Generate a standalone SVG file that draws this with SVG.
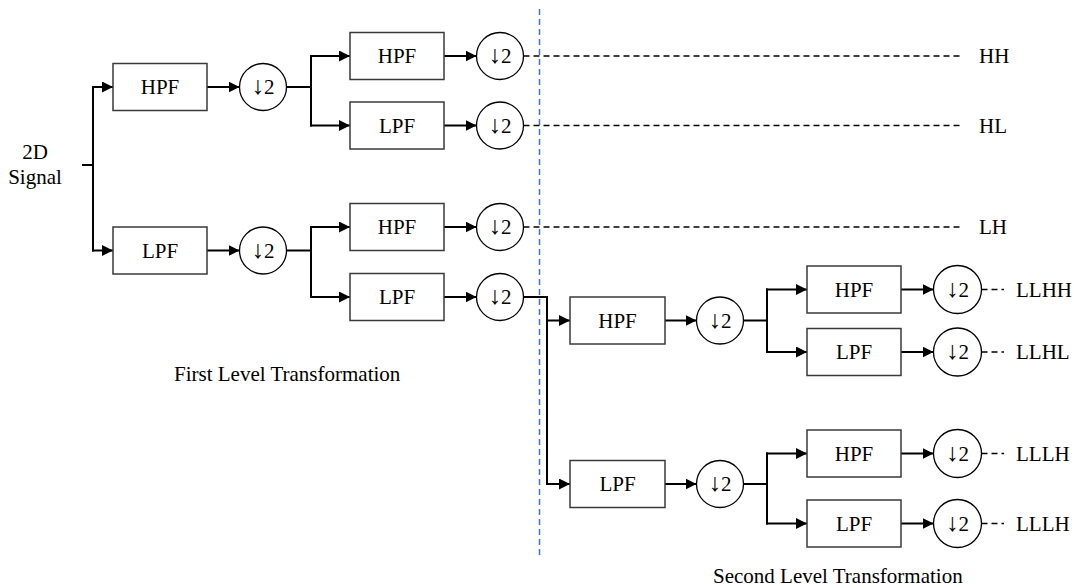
<svg xmlns="http://www.w3.org/2000/svg" width="1074" height="588" viewBox="0 0 1074 588">
<style>
text{font-family:"Liberation Serif","Times New Roman",serif;fill:#000}
.lbl{font-size:21px;text-anchor:middle}
.out{font-size:21px}
.cap{font-size:21px}
.ar{font-size:25px}
.box{fill:#fff;stroke:#3a3a3a;stroke-width:1.5}
.ds{fill:#fff;stroke:#000;stroke-width:1.3}
.c{fill:none;stroke:#000;stroke-width:2}
.a{fill:none;stroke:#000;stroke-width:2;marker-end:url(#ah)}
.d{fill:none;stroke:#000;stroke-width:1.5;stroke-dasharray:6 4}
.sep{fill:none;stroke:#3F78B5;stroke-width:1.5;stroke-dasharray:6 4}
</style>
<defs>
<marker id="ah" markerUnits="userSpaceOnUse" viewBox="0 0 10 10" markerWidth="11" markerHeight="11" refX="10" refY="5" orient="auto">
<path d="M0,0 L10,5 L0,10 z" fill="#000"/>
</marker>
</defs>
<rect width="1074" height="588" fill="#fff"/>

<g id="separator">
<line class="sep" x1="539.5" y1="9" x2="539.5" y2="555"/>
</g>

<g id="connectors">
<line class="c" x1="82" y1="165" x2="93" y2="165"/>
<line class="c" x1="93" y1="86" x2="93" y2="251.5"/>
<line class="a" x1="92" y1="87" x2="113" y2="87"/>
<line class="a" x1="92" y1="250.5" x2="113" y2="250.5"/>
<line class="a" x1="207" y1="87" x2="239.5" y2="87"/>
<line class="a" x1="207" y1="250.5" x2="239.5" y2="250.5"/>
<line class="c" x1="286.5" y1="87" x2="311" y2="87"/>
<line class="c" x1="311" y1="55" x2="311" y2="126.5"/>
<line class="a" x1="310" y1="56" x2="350" y2="56"/>
<line class="a" x1="310" y1="125.5" x2="350" y2="125.5"/>
<line class="a" x1="444" y1="56" x2="476.5" y2="56"/>
<line class="a" x1="444" y1="125.5" x2="476.5" y2="125.5"/>
<line class="c" x1="286.5" y1="250.5" x2="311" y2="250.5"/>
<line class="c" x1="311" y1="226" x2="311" y2="298"/>
<line class="a" x1="310" y1="227" x2="350" y2="227"/>
<line class="a" x1="310" y1="297" x2="350" y2="297"/>
<line class="a" x1="444" y1="227" x2="476.5" y2="227"/>
<line class="a" x1="444" y1="297" x2="476.5" y2="297"/>
<line class="d" x1="523.5" y1="56" x2="963" y2="56"/>
<line class="d" x1="523.5" y1="125.5" x2="963" y2="125.5"/>
<line class="d" x1="523.5" y1="227" x2="963" y2="227"/>
<polyline class="c" points="523.5,297 547,297 547,485"/>
<line class="a" x1="546" y1="320.5" x2="570" y2="320.5"/>
<line class="a" x1="546" y1="484" x2="570" y2="484"/>
<line class="a" x1="665" y1="320.5" x2="696.5" y2="320.5"/>
<line class="a" x1="665" y1="484" x2="696.5" y2="484"/>
<line class="c" x1="743.5" y1="320.5" x2="767" y2="320.5"/>
<line class="c" x1="767" y1="288.5" x2="767" y2="353"/>
<line class="a" x1="766" y1="289.5" x2="807" y2="289.5"/>
<line class="a" x1="766" y1="352" x2="807" y2="352"/>
<line class="c" x1="743.5" y1="484" x2="767" y2="484"/>
<line class="c" x1="767" y1="452.5" x2="767" y2="524.5"/>
<line class="a" x1="766" y1="453.5" x2="807" y2="453.5"/>
<line class="a" x1="766" y1="523.5" x2="807" y2="523.5"/>
<line class="a" x1="901" y1="289.5" x2="933.5" y2="289.5"/>
<line class="a" x1="901" y1="352" x2="933.5" y2="352"/>
<line class="a" x1="901" y1="453.5" x2="933.5" y2="453.5"/>
<line class="a" x1="901" y1="523.5" x2="933.5" y2="523.5"/>
<line class="d" x1="981.5" y1="289.5" x2="1004" y2="289.5"/>
<line class="d" x1="981.5" y1="352" x2="1004" y2="352"/>
<line class="d" x1="981.5" y1="453.5" x2="1004" y2="453.5"/>
<line class="d" x1="981.5" y1="523.5" x2="1004" y2="523.5"/>
</g>

<g id="input"><text class="lbl" x="35" y="159">2D</text><text class="lbl" x="35" y="184">Signal</text></g>

<g id="hpf1"><rect class="box" x="113" y="63.5" width="94" height="47"/><text class="lbl" x="160" y="94">HPF</text></g>
<g id="lpf1"><rect class="box" x="113" y="227" width="94" height="47"/><text class="lbl" x="160" y="257.5">LPF</text></g>
<g id="ds1"><circle class="ds" cx="263" cy="87" r="23.5"/><text class="lbl" x="263" y="94"><tspan class="ar">↓</tspan>2</text></g>
<g id="ds2"><circle class="ds" cx="263" cy="250.5" r="23.5"/><text class="lbl" x="263" y="257.5"><tspan class="ar">↓</tspan>2</text></g>

<g id="hpf_h"><rect class="box" x="350" y="32.5" width="94" height="47"/><text class="lbl" x="397" y="63">HPF</text></g>
<g id="lpf_h"><rect class="box" x="350" y="102" width="94" height="47"/><text class="lbl" x="397" y="132.5">LPF</text></g>
<g id="hpf_l"><rect class="box" x="350" y="203.5" width="94" height="47"/><text class="lbl" x="397" y="234">HPF</text></g>
<g id="lpf_l"><rect class="box" x="350" y="273.5" width="94" height="47"/><text class="lbl" x="397" y="304">LPF</text></g>
<g id="ds_hh"><circle class="ds" cx="500" cy="56" r="23.5"/><text class="lbl" x="500" y="63"><tspan class="ar">↓</tspan>2</text></g>
<g id="ds_hl"><circle class="ds" cx="500" cy="125.5" r="23.5"/><text class="lbl" x="500" y="132.5"><tspan class="ar">↓</tspan>2</text></g>
<g id="ds_lh"><circle class="ds" cx="500" cy="227" r="23.5"/><text class="lbl" x="500" y="234"><tspan class="ar">↓</tspan>2</text></g>
<g id="ds_ll"><circle class="ds" cx="500" cy="297" r="23.5"/><text class="lbl" x="500" y="304"><tspan class="ar">↓</tspan>2</text></g>

<g id="out_hh"><text class="out" x="979" y="63">HH</text></g>
<g id="out_hl"><text class="out" x="979" y="132.5">HL</text></g>
<g id="out_lh"><text class="out" x="979" y="234">LH</text></g>

<g id="hpf2"><rect class="box" x="570" y="297" width="95" height="47"/><text class="lbl" x="617.5" y="327.5">HPF</text></g>
<g id="lpf2"><rect class="box" x="570" y="460.5" width="95" height="47"/><text class="lbl" x="617.5" y="491">LPF</text></g>
<g id="ds3"><circle class="ds" cx="720" cy="320.5" r="23.5"/><text class="lbl" x="720" y="327.5"><tspan class="ar">↓</tspan>2</text></g>
<g id="ds4"><circle class="ds" cx="720" cy="484" r="23.5"/><text class="lbl" x="720" y="491"><tspan class="ar">↓</tspan>2</text></g>

<g id="hpf3a"><rect class="box" x="807" y="266" width="94" height="47"/><text class="lbl" x="854" y="296.5">HPF</text></g>
<g id="lpf3a"><rect class="box" x="807" y="328.5" width="94" height="47"/><text class="lbl" x="854" y="359">LPF</text></g>
<g id="hpf3b"><rect class="box" x="807" y="430" width="94" height="47"/><text class="lbl" x="854" y="460.5">HPF</text></g>
<g id="lpf3b"><rect class="box" x="807" y="500" width="94" height="47"/><text class="lbl" x="854" y="530.5">LPF</text></g>
<g id="ds5"><circle class="ds" cx="957.5" cy="289.5" r="24"/><text class="lbl" x="957.5" y="296.5"><tspan class="ar">↓</tspan>2</text></g>
<g id="ds6"><circle class="ds" cx="957.5" cy="352" r="24"/><text class="lbl" x="957.5" y="359"><tspan class="ar">↓</tspan>2</text></g>
<g id="ds7"><circle class="ds" cx="957.5" cy="453.5" r="24"/><text class="lbl" x="957.5" y="460.5"><tspan class="ar">↓</tspan>2</text></g>
<g id="ds8"><circle class="ds" cx="957.5" cy="523.5" r="24"/><text class="lbl" x="957.5" y="530.5"><tspan class="ar">↓</tspan>2</text></g>

<g id="out_llhh"><text class="out" x="1016" y="296.5">LLHH</text></g>
<g id="out_llhl"><text class="out" x="1016" y="359">LLHL</text></g>
<g id="out_lllh1"><text class="out" x="1016" y="460.5">LLLH</text></g>
<g id="out_lllh2"><text class="out" x="1016" y="530.5">LLLH</text></g>

<g id="captions">
<text class="cap" x="174" y="381">First Level Transformation</text>
<text class="cap" x="713" y="583">Second Level Transformation</text>
</g>
</svg>
